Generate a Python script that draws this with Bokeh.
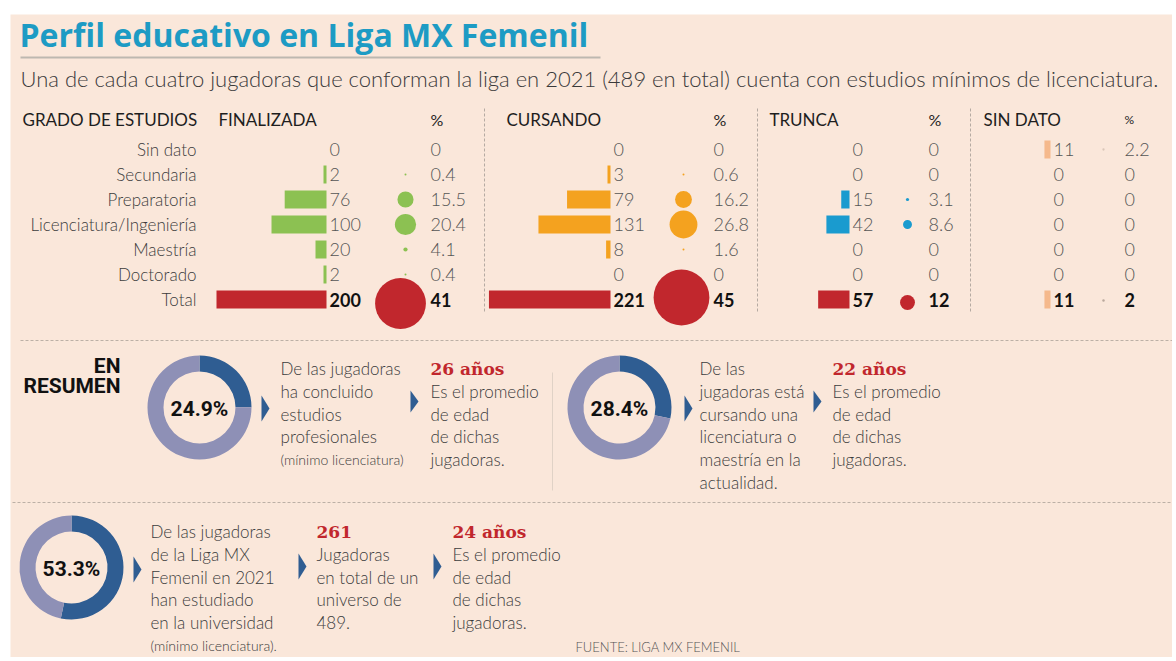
import math
from bokeh.plotting import figure
from bokeh.models import Range1d
from bokeh.core.properties import value
from bokeh.embed import file_html
from bokeh.resources import INLINE

# ---------------- data ----------------
title = "Perfil educativo en Liga MX Femenil"
subtitle = ("Una de cada cuatro jugadoras que conforman la liga en 2021 (489 en total) "
            "cuenta con estudios mínimos de licenciatura.")
grados = ["Sin dato", "Secundaria", "Preparatoria", "Licenciatura/Ingeniería",
          "Maestría", "Doctorado", "Total"]
grupos = ["FINALIZADA", "CURSANDO", "TRUNCA", "SIN DATO"]
finalizada = [0, 2, 76, 100, 20, 2, 200]
finalizada_pct = [0, 0.4, 15.5, 20.4, 4.1, 0.4, 41]
cursando = [0, 3, 79, 131, 8, 0, 221]
cursando_pct = [0, 0.6, 16.2, 26.8, 1.6, 0, 45]
trunca = [0, 0, 15, 42, 0, 0, 57]
trunca_pct = [0, 0, 3.1, 8.6, 0, 0, 12]
sin_dato = [11, 0, 0, 0, 0, 0, 11]
sin_dato_pct = [2.2, 0, 0, 0, 0, 0, 2]

resumen_pct = [24.9, 28.4, 53.3]
resumen_texto = [
    ["De las jugadoras", "ha concluido", "estudios", "profesionales", "(mínimo licenciatura)"],
    ["De las", "jugadoras está", "cursando una", "licenciatura o", "maestría en la", "actualidad."],
    ["De las jugadoras", "de la Liga MX", "Femenil en 2021", "han estudiado", "en la universidad",
     "(mínimo licenciatura)."],
]
edad_titulo = ["26 años", "22 años", "24 años"]
edad_texto = ["Es el promedio", "de edad", "de dichas", "jugadoras."]
total_titulo = "261"
total_texto = [" Jugadoras", "en total de un", "universo de", "489."]
fuente = "FUENTE: LIGA MX FEMENIL"

# ---------------- style ----------------
BG = "#fae7da"
FONT = "Lato Light, Lato"
TXT = "#3c3c3c"
DARK = "#1e1e1e"
RED = "#c1272d"
DONUT_DARK = "#2f5d92"
DONUT_LIGHT = "#8e90b6"
colors = ["#8cc152", "#f4a21f", "#1a9bcf", "#f5b98c"]

W, H = 1172, 657
p = figure(width=W, height=H, x_range=Range1d(0, W), y_range=Range1d(H, 0),
           output_backend="svg", toolbar_location=None, x_axis_type=None, y_axis_type=None,
           min_border=0, outline_line_color=None, background_fill_color="white",
           border_fill_color="white")
p.grid.visible = False

p.quad(left=[10], right=[W], top=[14], bottom=[H], fill_color=BG, line_color=None)


def txt(x, y, s, size, color=TXT, align="left", font=FONT, style="normal", baseline="middle"):
    if isinstance(s, str):
        s = [s]
        x = [x]
        y = [y]
    p.text(x=x, y=y, text=s, text_font=value(font), text_font_size=f"{size}px",
           text_color=color, text_align=align, text_baseline=baseline, text_font_style=style)


# title
txt(19, 34, title, 32, color="#1d9bc4", style="bold", font="Open Sans")
p.segment(x0=[20], y0=[57], x1=[600], y1=[57], line_color="#bdb8b0", line_width=2)
txt(20, 78, subtitle, 22, color="#3a3a3a")

# table header
hy = 119
txt(22, hy, "GRADO DE ESTUDIOS", 17, color=DARK, font="Lato")
row_y = [149 + 25 * i for i in range(len(grados))]
txt([196] * len(grados), row_y, grados, 17, align="right")

cols = [
    dict(vals=finalizada, pct=finalizada_pct, head_x=218, anchor=326, num_x=329, circ_x=405, tot_cx=400, tot_cy=303, pct_x=430),
    dict(vals=cursando, pct=cursando_pct, head_x=506, anchor=610, num_x=613, circ_x=683, tot_cx=681, tot_cy=297, pct_x=713),
    dict(vals=trunca, pct=trunca_pct, head_x=769, anchor=849, num_x=852, circ_x=907, tot_cx=907, tot_cy=302, pct_x=928),
    dict(vals=sin_dato, pct=sin_dato_pct, head_x=983, anchor=1050, num_x=1053, circ_x=1103, tot_cx=1103, tot_cy=300, pct_x=1124),
]
BAR_SCALE = 0.55
BAR_H = 18
for gi, (g, c) in enumerate(zip(grupos, cols)):
    txt(c["head_x"], hy, g, 17, color=DARK, font="Lato")
    txt(c["pct_x"], hy, "%", 16 if gi < 3 else 12, color=DARK, font="Lato")
    n = len(c["vals"])
    # bars
    L, R, T, B, FC = [], [], [], [], []
    for i, v in enumerate(c["vals"]):
        if v > 0:
            w = max(v * BAR_SCALE, 3)
            L.append(c["anchor"] - w); R.append(c["anchor"])
            T.append(row_y[i] - BAR_H / 2); B.append(row_y[i] + BAR_H / 2)
            FC.append(RED if (i == n - 1 and gi < 3) else colors[gi])
    p.quad(left=L, right=R, top=T, bottom=B, fill_color=FC, line_color=None)
    # circles
    cx, cy, cr, cc = [], [], [], []
    for i, v in enumerate(c["pct"]):
        if v > 0:
            if i == n - 1:
                cx.append(c["tot_cx"]); cy.append(c["tot_cy"]); cr.append(max(v * 0.62, 1.2))
                cc.append(RED if gi < 3 else "#b9a89c")
            else:
                cx.append(c["circ_x"]); cy.append(row_y[i]); cr.append(max(v * 0.52, 1.0))
                cc.append(colors[gi] if gi < 3 else "#d9c6b8")
    p.circle(x=cx, y=cy, radius=cr, fill_color=cc, line_color=None)
    # numbers
    txt([c["num_x"]] * (n - 1), row_y[:-1], [str(v) for v in c["vals"][:-1]], 18, color="#555555")
    txt(c["num_x"], row_y[-1], str(c["vals"][-1]), 18, color="#111111", style="bold", font="Lato")
    txt([c["pct_x"]] * (n - 1), row_y[:-1], [f"{v:g}" for v in c["pct"][:-1]], 18, color="#555555")
    txt(c["pct_x"], row_y[-1], f"{c['pct'][-1]:g}", 18, color="#111111", style="bold", font="Lato")

# separators
for x in [484, 757, 970]:
    p.segment(x0=[x], y0=[108], x1=[x], y1=[312], line_color="#b5aaa2", line_dash="3 2", line_width=1)
p.segment(x0=[20, 12], y0=[340, 502], x1=[W, W], y1=[340, 502],
          line_color="#bcb0a6", line_dash="3 2", line_width=1)
p.segment(x0=[552], y0=[372], x1=[552], y1=[490], line_color="#e0d2c6", line_width=1)

# EN RESUMEN
txt(120, 365, "EN", 21, color="#111111", align="right", font="Roboto", style="bold")
txt(120, 385, "RESUMEN", 21, color="#111111", align="right", font="Roboto", style="bold")

# donuts
donut_c = [(199, 407), (619, 407), (71, 567)]
R_OUT, R_IN = 52, 36
for (x, y), pc in zip(donut_c, resumen_pct):
    a = 2 * math.pi * pc / 100
    p.annular_wedge(x=[x], y=[y], inner_radius=R_IN, outer_radius=R_OUT,
                    start_angle=[math.pi / 2 - a], end_angle=[math.pi / 2],
                    fill_color=DONUT_DARK, line_color=None, direction="anticlock")
    p.annular_wedge(x=[x], y=[y], inner_radius=R_IN, outer_radius=R_OUT,
                    start_angle=[math.pi / 2], end_angle=[math.pi / 2 - a + 2 * math.pi],
                    fill_color=DONUT_LIGHT, line_color=None, direction="anticlock")
    txt(x, y + 1, f"{pc}%", 21, color="#111111", align="center", font="Roboto", style="bold")


def tri(x, y, h=26, w=8):
    p.patch(x=[x, x, x + w], y=[y - h / 2, y + h / 2, y], fill_color=DONUT_DARK, line_color=None)


LH = 22.8
BODY = 17
SMALL = 14
# section 1
tri(261, 408)
for i, s in enumerate(resumen_texto[0]):
    small = s.startswith("(")
    txt(280, 368 + i * LH, s, SMALL if small else BODY)
tri(410, 401, h=22)
txt(430, 368, edad_titulo[0], 17, color=RED, font="DejaVu Serif", style="bold")
for i, s in enumerate(edad_texto):
    txt(430, 368 + (i + 1) * LH, s, BODY)

# section 2
tri(684, 408)
for i, s in enumerate(resumen_texto[1]):
    txt(699, 368 + i * LH, s, BODY)
tri(813, 401, h=22)
txt(832, 368, edad_titulo[1], 17, color=RED, font="DejaVu Serif", style="bold")
for i, s in enumerate(edad_texto):
    txt(832, 368 + (i + 1) * LH, s, BODY)

# section 3
tri(133, 569)
for i, s in enumerate(resumen_texto[2]):
    small = s.startswith("(")
    txt(150, 531 + i * LH, s, SMALL if small else BODY)
tri(298, 566, h=26)
txt(316, 531, total_titulo, 17, color=RED, font="DejaVu Serif", style="bold")
for i, s in enumerate(total_texto):
    txt(316, 531 + (i + 1) * LH, s, BODY)
tri(433, 566, h=26)
txt(452, 531, edad_titulo[2], 17, color=RED, font="DejaVu Serif", style="bold")
for i, s in enumerate(edad_texto):
    txt(452, 531 + (i + 1) * LH, s, BODY)

txt(575, 646, fuente, 13, color="#555555")

open("out.html", "w").write(file_html(p, INLINE))
